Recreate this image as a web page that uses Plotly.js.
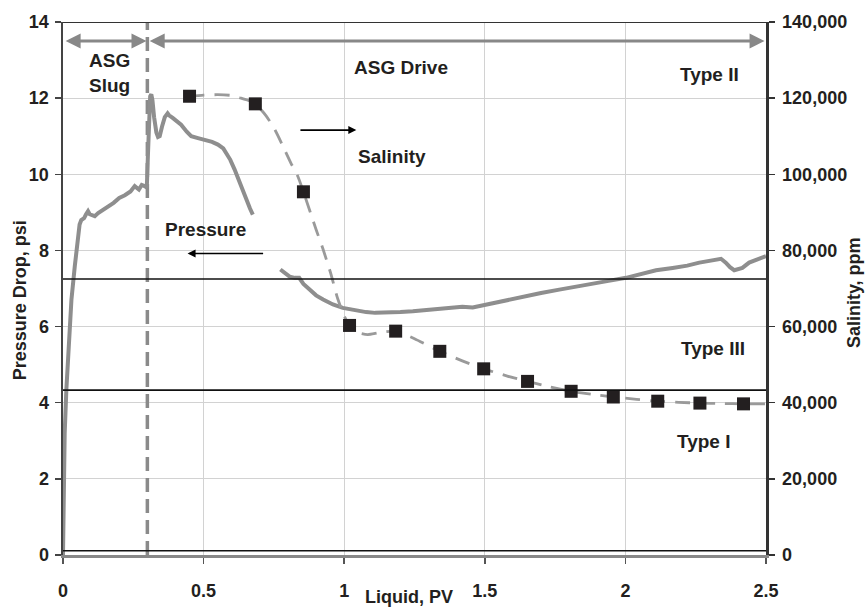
<!DOCTYPE html>
<html>
<head>
<meta charset="utf-8">
<script src="https://cdn.plot.ly/plotly-3.0.1.min.js"></script>
<style>html,body{margin:0;padding:0;background:#fff;}#chart{width:866px;height:610px;}</style>
</head>
<body>
<div id="chart"></div>
<script>
// Pressure drop (psi) vs liquid injected (PV)
const pressurePV = [0, 0.002, 0.006, 0.012, 0.02, 0.03, 0.042, 0.05, 0.059, 0.065, 0.075, 0.082, 0.089, 0.095, 0.103, 0.113, 0.125, 0.14, 0.16, 0.18, 0.2, 0.22, 0.24, 0.255, 0.27, 0.28, 0.29, 0.298, 0.302, 0.306, 0.31, 0.314, 0.318, 0.324, 0.332, 0.338, 0.344, 0.352, 0.362, 0.372, 0.377, 0.39, 0.405, 0.42, 0.44, 0.456, 0.48, 0.51, 0.53, 0.551, 0.57, 0.58, 0.595, 0.61, 0.625, 0.64, 0.655, 0.665, 0.675, null, 0.773, 0.79, 0.806, 0.825, 0.84, 0.855, 0.877, 0.9, 0.925, 0.96, 0.995, 1.04, 1.078, 1.11, 1.149, 1.2, 1.244, 1.3, 1.362, 1.42, 1.457, 1.505, 1.56, 1.647, 1.7, 1.765, 1.82, 1.883, 1.94, 2.002, 2.05, 2.109, 2.168, 2.22, 2.263, 2.3, 2.34, 2.357, 2.372, 2.387, 2.4, 2.416, 2.44, 2.47, 2.494, 2.5];
const pressurePsi = [0, 1.8, 3.2, 4.35, 5.6, 6.71, 7.59, 8.2, 8.68, 8.8, 8.85, 8.95, 9.03, 8.95, 8.92, 8.9, 8.98, 9.05, 9.16, 9.25, 9.38, 9.45, 9.55, 9.69, 9.6, 9.72, 9.69, 9.65, 10.5, 11.6, 12.05, 12.1, 11.95, 11.5, 11.1, 10.98, 11.0, 11.25, 11.5, 11.6, 11.55, 11.48, 11.4, 11.3, 11.12, 11.0, 10.95, 10.89, 10.85, 10.78, 10.68, 10.56, 10.38, 10.13, 9.85, 9.51, 9.25, 9.1, 8.94, null, 7.5, 7.4, 7.31, 7.28, 7.28, 7.12, 6.97, 6.82, 6.71, 6.58, 6.49, 6.42, 6.38, 6.36, 6.36, 6.38, 6.40, 6.44, 6.49, 6.52, 6.5, 6.58, 6.66, 6.8, 6.88, 6.97, 7.05, 7.13, 7.2, 7.28, 7.38, 7.48, 7.54, 7.6, 7.68, 7.72, 7.78, 7.68, 7.56, 7.48, 7.5, 7.54, 7.68, 7.76, 7.83, 7.85];

// Salinity trend curve (ppm)
const salinityCurvePV = [0.45, 0.5, 0.55, 0.6, 0.628, 0.655, 0.684, 0.723, 0.755, 0.782, 0.81, 0.835, 0.855, 0.9, 0.924, 0.952, 0.977, 1.0, 1.019, 1.05, 1.084, 1.125, 1.183, 1.25, 1.34, 1.42, 1.496, 1.58, 1.652, 1.73, 1.807, 1.88, 1.957, 2.04, 2.115, 2.19, 2.265, 2.34, 2.42, 2.5];
const salinityCurvePpm = [120500, 120800, 120900, 120700, 120100, 119500, 118500, 115300, 111500, 107400, 103000, 99500, 95400, 85500, 80500, 74000, 67300, 62800, 60300, 58400, 57900, 58400, 58800, 56800, 53500, 51000, 48900, 47000, 45600, 44200, 43000, 42200, 41500, 40900, 40400, 40100, 39900, 39800, 39700, 39700];

// Measured salinity samples (ppm)
const samplePV = [0.45, 0.684, 0.855, 1.019, 1.183, 1.34, 1.496, 1.652, 1.807, 1.957, 2.115, 2.265, 2.42];
const samplePpm = [120500, 118500, 95400, 60300, 58800, 53500, 48900, 45600, 43000, 41500, 40400, 39900, 39700];

// Phase-behaviour boundaries (psi-equivalent on left axis)
const boundaryPsi = [0.11, 4.33, 7.25];
const slugEndPV = 0.3;

const xTicks = [0, 0.5, 1, 1.5, 2, 2.5];
const xTickText = ['0', '0.5', '1', '1.5', '2', '2.5'];
const yTicks = [0, 2, 4, 6, 8, 10, 12, 14];
const y2Ticks = [0, 20000, 40000, 60000, 80000, 100000, 120000, 140000];
const y2TickText = ['0', '20,000', '40,000', '60,000', '80,000', '100,000', '120,000', '140,000'];

const FONT = '"Liberation Sans", Arial, sans-serif';
const TXT = '#231f20';
const tf = {family: FONT, size: 18, color: TXT, weight: 'bold'};
const lf = {family: FONT, size: 19, color: TXT, weight: 'bold'};

const traces = [
  {x: [slugEndPV, slugEndPV], y: [0, 14], xaxis: 'x', yaxis: 'y', mode: 'lines',
   line: {color: '#8a8a8a', width: 3.5, dash: '14px,7px'}, hoverinfo: 'skip'},
  {x: pressurePV, y: pressurePsi, xaxis: 'x', yaxis: 'y', mode: 'lines', connectgaps: false,
   line: {color: '#8e8e8e', width: 4}},
  {x: salinityCurvePV, y: salinityCurvePpm, xaxis: 'x', yaxis: 'y2', mode: 'lines',
   line: {color: '#9a9a9a', width: 2.8, dash: '15px,10px', shape: 'spline', smoothing: 0.6}},
  {x: samplePV, y: samplePpm, xaxis: 'x', yaxis: 'y2', mode: 'markers',
   marker: {symbol: 'square', size: 13, color: TXT}}
];

const shapes = [];
boundaryPsi.forEach(b => shapes.push({type: 'line', xref: 'x', yref: 'y', x0: 0, x1: 2.5, y0: b, y1: b,
  line: {color: '#111', width: 1.6}}));
shapes.push({type: 'line', xref: 'x', yref: 'y', x0: 0, x1: 2.5, y0: 14, y1: 14, line: {color: '#333', width: 2}});

const ann = [];
function arrow(x, y, ax, ay, color, width, both) {
  ann.push({x: x, y: y, ax: ax, ay: ay, xref: 'x', yref: 'y', axref: 'x', ayref: 'y', text: '',
    showarrow: true, arrowhead: 2, arrowsize: 1, arrowwidth: width, arrowcolor: color,
    arrowside: both ? 'end+start' : 'end', standoff: 0, startstandoff: 0});
}
arrow(slugEndPV - 0.003, 13.5, 0.004, 13.5, '#888', 3, true);
arrow(2.495, 13.5, slugEndPV + 0.003, 13.5, '#888', 3, true);
arrow(1.043, 11.16, 0.839, 11.16, '#000', 1.6, false);
arrow(0.443, 7.92, 0.717, 7.92, '#000', 1.6, false);

function label(text, x, y) {
  ann.push({x: x, y: y, xref: 'x', yref: 'y', text: text, showarrow: false, font: lf,
    xanchor: 'center', yanchor: 'middle'});
}
label('ASG<br>Slug', 0.166, 12.66);
label('ASG Drive', 1.203, 12.8);
label('Type II', 2.30, 12.62);
label('Salinity', 1.17, 10.47);
label('Pressure', 0.507, 8.55);
label('Type III', 2.31, 5.42);
label('Type I', 2.28, 2.99);

ann.push({xref: 'paper', yref: 'paper', x: -0.0612, y: 0.478, text: 'Pressure Drop, psi', textangle: -90,
  showarrow: false, font: tf, xanchor: 'center', yanchor: 'middle'});
ann.push({xref: 'paper', yref: 'paper', x: 1.125, y: 0.493, text: 'Salinity, ppm', textangle: -90,
  showarrow: false, font: tf, xanchor: 'center', yanchor: 'middle'});
ann.push({xref: 'paper', yref: 'paper', x: 0.4927, y: -0.1011, text: 'Liquid, PV',
  showarrow: false, font: tf, xanchor: 'center', yanchor: 'bottom'});

const layout = {
  width: 866, height: 610,
  margin: {l: 63, r: 100, t: 22, b: 55, pad: 0},
  paper_bgcolor: '#fff', plot_bgcolor: '#fff',
  showlegend: false,
  font: {family: FONT, size: 18, color: TXT},
  xaxis: {range: [0, 2.5], tickvals: xTicks, ticktext: xTickText, showgrid: true, gridcolor: '#d2d2d2', gridwidth: 1.2,
    zeroline: false, showline: true, linecolor: '#888', linewidth: 2.5, ticks: 'outside', ticklen: 6,
    tickcolor: '#555', tickwidth: 1.5, tickfont: tf, ticklabelstandoff: 12, fixedrange: true},
  yaxis: {range: [0, 14], tickvals: yTicks, showgrid: true, gridcolor: '#d2d2d2', gridwidth: 1.2, zeroline: false,
    showline: true, linecolor: '#444', linewidth: 2.5, ticks: 'outside', ticklen: 6, tickcolor: '#444',
    tickwidth: 1.5, tickfont: tf, ticklabelstandoff: 2, fixedrange: true},
  yaxis2: {range: [0, 140000], tickvals: y2Ticks, ticktext: y2TickText, overlaying: 'y', side: 'right',
    showgrid: false, zeroline: false, showline: true, linecolor: '#333', linewidth: 2.5, ticks: 'outside',
    ticklen: 6, tickcolor: '#333', tickwidth: 1.5, tickfont: tf, ticklabelstandoff: 4, fixedrange: true},
  shapes: shapes,
  annotations: ann
};

Plotly.newPlot('chart', traces, layout, {displayModeBar: false, staticPlot: true});
</script>
</body>
</html>
